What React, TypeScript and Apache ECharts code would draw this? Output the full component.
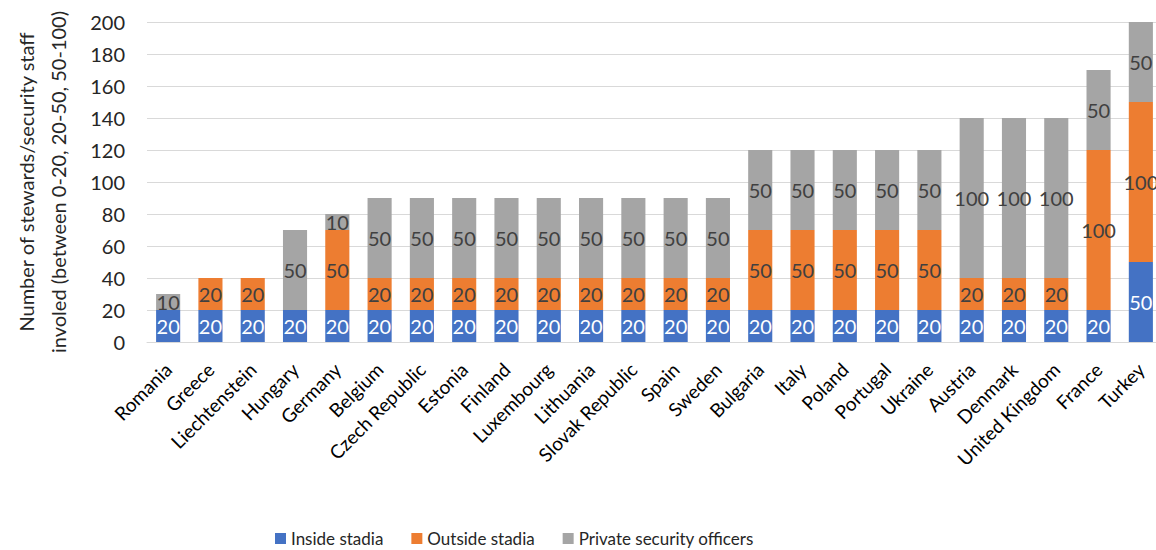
import React, { useEffect, useRef } from "react";
import * as echarts from "echarts";

const countries = [
  "Romania", "Greece", "Liechtenstein", "Hungary", "Germany", "Belgium",
  "Czech Republic", "Estonia", "Finland", "Luxembourg", "Lithuania",
  "Slovak Republic", "Spain", "Sweden", "Bulgaria", "Italy", "Poland",
  "Portugal", "Ukraine", "Austria", "Denmark", "United Kingdom", "France", "Turkey",
];

const insideStadia = [20, 20, 20, 20, 20, 20, 20, 20, 20, 20, 20, 20, 20, 20, 20, 20, 20, 20, 20, 20, 20, 20, 20, 50];
const outsideStadia = [0, 20, 20, 0, 50, 20, 20, 20, 20, 20, 20, 20, 20, 20, 50, 50, 50, 50, 50, 20, 20, 20, 100, 100];
const privateSecurity = [10, 0, 0, 50, 10, 50, 50, 50, 50, 50, 50, 50, 50, 50, 50, 50, 50, 50, 50, 100, 100, 100, 50, 50];

const FONT = "Lato, 'Open Sans', sans-serif";

function makeSeries(name: string, data: number[], color: string, labelColor: string) {
  return {
    name,
    type: "bar",
    stack: "total",
    data,
    barWidth: "57%",
    itemStyle: { color },
    label: {
      show: true,
      position: "inside",
      color: labelColor,
      fontFamily: FONT,
      fontSize: 20,
      // empty segments carry no label
      formatter: (p: any) => (p.value ? String(p.value) : ""),
    },
  };
}

export default function App() {
  const ref = useRef<HTMLDivElement>(null);

  useEffect(() => {
    if (!ref.current) return;
    const chart = echarts.init(ref.current, null, { renderer: "svg" });
    chart.setOption({
      animation: false,
      textStyle: { fontFamily: FONT },
      grid: {
        left: 147,
        top: 22,
        width: 1015,
        height: 320,
        containLabel: false,
        outerBoundsMode: "none",
      },
      legend: {
        top: 530,
        left: 275,
        padding: 0,
        itemWidth: 11,
        itemHeight: 11,
        itemGap: 28,
        icon: "rect",
        textStyle: { fontFamily: FONT, fontSize: 17, color: "#262626" },
        data: ["Inside stadia", "Outside stadia", "Private security officers"],
      },
      xAxis: {
        type: "category",
        data: countries,
        axisLine: { lineStyle: { color: "#D9D9D9" } },
        axisTick: { show: false },
        axisLabel: {
          interval: 0,
          rotate: 45,
          margin: 24,
          fontFamily: FONT,
          fontSize: 19,
          color: "#000000",
        },
      },
      yAxis: {
        type: "value",
        min: 0,
        max: 200,
        interval: 20,
        name: "Number of stewards/security staff\ninvoled (between 0-20, 20-50, 50-100)",
        nameLocation: "middle",
        nameRotate: 90,
        nameGap: 73,
        nameTextStyle: { fontFamily: FONT, fontSize: 20, color: "#262626", lineHeight: 32 },
        axisLine: { show: false },
        axisTick: { show: false },
        splitLine: { lineStyle: { color: "#D9D9D9", width: 1 } },
        axisLabel: { fontFamily: FONT, fontSize: 20, color: "#262626", margin: 22 },
      },
      series: [
        makeSeries("Inside stadia", insideStadia, "#4472C4", "#FFFFFF"),
        makeSeries("Outside stadia", outsideStadia, "#ED7D31", "#404040"),
        makeSeries("Private security officers", privateSecurity, "#A5A5A5", "#404040"),
      ],
    });
    return () => chart.dispose();
  }, []);

  return (
    <div
      ref={ref}
      style={{ position: "fixed", left: 0, top: 0, width: 1156, height: 550, background: "#fff" }}
    />
  );
}
